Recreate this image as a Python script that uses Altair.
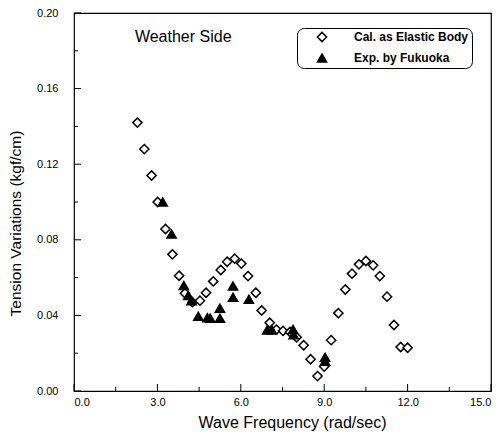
import altair as alt
import pandas as pd

# Calculated (Cal. as Elastic Body)
cal_x = [2.28, 2.53, 2.79, 3.01, 3.29, 3.54, 3.78, 3.99, 4.26, 4.53, 4.75, 5.01, 5.28, 5.51,
         5.78, 6.02, 6.26, 6.54, 6.75, 7.04, 7.28, 7.52, 7.77, 8.01, 8.26, 8.51, 8.76, 9.00,
         9.25, 9.51, 9.76, 10.00, 10.25, 10.50, 10.76, 11.00, 11.26, 11.51, 11.75, 12.00]
cal_y = [0.142, 0.128, 0.114, 0.100, 0.0857, 0.0723, 0.061, 0.0517, 0.047, 0.0478, 0.052, 0.058,
         0.064, 0.0684, 0.070, 0.0674, 0.0608, 0.052, 0.0426, 0.0361, 0.0325, 0.0318, 0.0312,
         0.0284, 0.0242, 0.0168, 0.0079, 0.0129, 0.0269, 0.0412, 0.0537, 0.0621, 0.067, 0.0688,
         0.0665, 0.0608, 0.0499, 0.0349, 0.0233, 0.0229]

# Experiment (Exp. by Fukuoka)
exp_x = [3.19, 3.51, 3.95, 4.11, 4.23, 4.47, 4.80, 4.90, 5.25, 5.25, 5.72, 5.72, 6.29,
         6.95, 7.12, 7.88, 7.90, 9.03, 9.03]
exp_y = [0.100, 0.083, 0.0558, 0.0505, 0.0478, 0.0395, 0.0388, 0.0385, 0.0438, 0.0385, 0.0556,
         0.0496, 0.0485, 0.0323, 0.0323, 0.0326, 0.0298, 0.0178, 0.0158]

series_names = ["Cal. as Elastic Body", "Exp. by Fukuoka"]

x_major = [0, 3, 6, 9, 12, 15]
x_minor = [1.5, 4.5, 7.5, 10.5, 13.5]
y_major = [0.0, 0.04, 0.08, 0.12, 0.16, 0.20]
y_minor = [0.02, 0.06, 0.10, 0.14, 0.18]

note_text = ["Weather Side"]
note_x = [2.19]
note_y = [0.1873]

W, H = 417, 378
FONT = "Liberation Sans"

pts = pd.DataFrame({
    "x": cal_x + exp_x,
    "y": cal_y + exp_y,
    "s": [series_names[0]] * len(cal_x) + [series_names[1]] * len(exp_x),
})

xs = alt.Scale(domain=[0, 15], nice=False, zero=False)
ys = alt.Scale(domain=[0, 0.20], nice=False, zero=False)

points = alt.Chart(pts).mark_point(size=85, strokeWidth=1.5, opacity=1, filled=False).encode(
    x=alt.X("x:Q", scale=xs, axis=alt.Axis(
        title="Wave Frequency (rad/sec)", values=x_major, format=".1f", ticks=False, domain=False,
        grid=False, labelFont=FONT, labelFontSize=11, labelColor="black", labelPadding=5,
        titleFont=FONT, titleFontSize=16, titleFontWeight="normal", titleColor="black",
        titleX=218, titleY=31, titleBaseline="middle")),
    y=alt.Y("y:Q", scale=ys, axis=alt.Axis(
        title="Tension Variations (kgf/cm)", values=y_major, format=".2f", ticks=False, domain=False,
        grid=False, labelFont=FONT, labelFontSize=11, labelColor="black", labelPadding=16,
        titleFont=FONT, titleFontSize=15.5, titleFontWeight="normal", titleColor="black",
        titleX=-59, titleY=210, titleBaseline="middle", titleAngle=270)),
    shape=alt.Shape("s:N", scale=alt.Scale(domain=series_names, range=["diamond", "triangle-up"]),
                    legend=alt.Legend(title=None)),
    fill=alt.Fill("s:N", scale=alt.Scale(domain=series_names, range=["white", "black"]),
                  legend=alt.Legend(title=None)),
    stroke=alt.Stroke("s:N", scale=alt.Scale(domain=series_names, range=["black", "black"]),
                      legend=alt.Legend(title=None)),
)

xmaj = alt.Chart(pd.DataFrame({"v": x_major})).mark_rule(color="black", strokeWidth=1).encode(
    x=alt.X("v:Q", scale=xs), y=alt.value(H), y2=alt.value(H - 7))
xmin = alt.Chart(pd.DataFrame({"v": x_minor})).mark_rule(color="black", strokeWidth=1).encode(
    x=alt.X("v:Q", scale=xs), y=alt.value(H), y2=alt.value(H - 4))
ymaj = alt.Chart(pd.DataFrame({"v": y_major})).mark_rule(color="black", strokeWidth=1).encode(
    y=alt.Y("v:Q", scale=ys), x=alt.value(0), x2=alt.value(7))
ymin = alt.Chart(pd.DataFrame({"v": y_minor})).mark_rule(color="black", strokeWidth=1).encode(
    y=alt.Y("v:Q", scale=ys), x=alt.value(0), x2=alt.value(4))

note = alt.Chart(pd.DataFrame({"t": note_text, "x": note_x, "y": note_y})).mark_text(
    align="left", baseline="middle", font=FONT, fontSize=16, color="black").encode(
    x=alt.X("x:Q", scale=xs), y=alt.Y("y:Q", scale=ys), text="t:N")

chart = alt.layer(xmaj, xmin, ymaj, ymin, note, points).properties(
    width=W, height=H,
    autosize=alt.AutoSizeParams(type="none"),
    padding={"left": 66, "top": 5, "right": 1, "bottom": 42},
).configure_view(stroke="black", strokeWidth=1.2).configure_legend(
    orient="none", legendX=223, legendY=15,
    strokeColor="black", strokeWidth=1, cornerRadius=7, fillColor="white",
    padding=3, symbolOffset=16, labelOffset=26, rowPadding=6,
    labelFont=FONT, labelFontSize=12, labelFontWeight="bold", labelColor="black",
    symbolSize=85, symbolStrokeWidth=1.5,
)

chart.save("out.html", embed_options={"renderer": "svg", "actions": False})
